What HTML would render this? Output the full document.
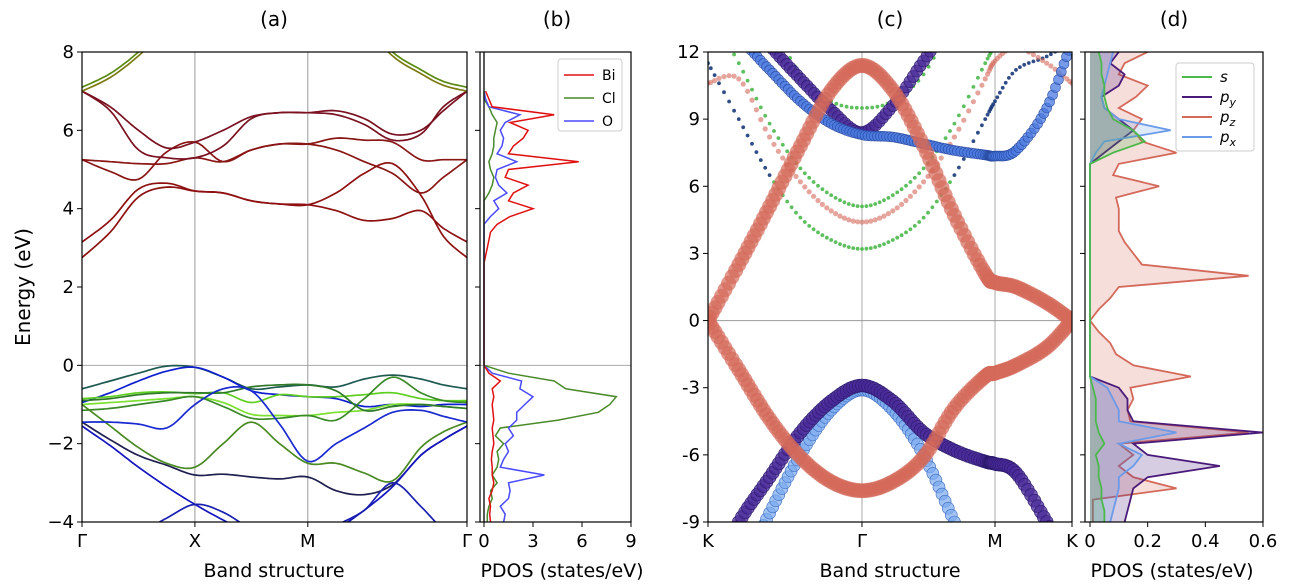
<!DOCTYPE html>
<html><head><meta charset="utf-8"><style>
html,body{margin:0;padding:0;background:#fff;}
svg{display:block;font-family:"DejaVu Sans","Liberation Sans",sans-serif;}
</style></head><body>
<svg id="fig" width="1296" height="587" viewBox="0 0 1296 587" xmlns="http://www.w3.org/2000/svg">
<defs>
<clipPath id="clipA"><rect x="82" y="52" width="385" height="470"/></clipPath>
<clipPath id="clipB"><rect x="480" y="52" width="151" height="470"/></clipPath>
<clipPath id="clipC"><rect x="708" y="52" width="364" height="470"/></clipPath>
<clipPath id="clipD"><rect x="1085" y="52" width="178" height="470"/></clipPath>
</defs>
<g id="layer"></g>
</svg>
<script>
// ---------- Panel (a) band structure data ----------
const aKnots = [0,0.25,0.5,0.75,1,1.25,1.5,1.75,2,2.25,2.5,2.75,3,3.2,3.41];
const aTickLabels = ["Γ","X","M","Γ"];
const aTickPos = [0,1,2,3.41];
const aYTicks = [8,6,4,2,0,-2,-4];
const bandC1 = [2.75,3.4,4.3,4.55,4.45,4.4,4.2,4.12,4.1,3.95,3.7,3.75,3.95,3.5,3.15];
const bandC2 = [3.15,3.7,4.5,4.65,4.45,4.4,4.2,4.12,4.1,4.4,4.9,5.15,4.35,3.3,2.75];
const bandC3 = [5.25,4.95,4.75,5.45,5.7,5.2,5.5,5.65,5.65,5.8,5.75,5.7,5.25,5.25,5.25];
const bandC4 = [5.25,5.2,5.15,5.15,5.3,5.2,5.5,5.65,5.65,5.5,5.2,4.9,4.4,4.8,5.25];
const bandC5 = [7.0,6.5,5.5,5.3,5.3,5.6,6.3,6.45,6.45,6.5,6.3,5.9,6.0,6.5,7.0];
const bandC6 = [7.0,6.6,6.0,5.55,5.7,6.0,6.35,6.45,6.45,6.4,6.15,5.75,5.9,6.6,7.0];
const bandG1 = [7.0,7.35,7.9,8.6,9.3,9.8,10,10,10,9.6,8.7,7.9,7.45,7.15,7.0];
const bandG2 = [7.1,7.45,8.0,8.7,9.4,9.9,10.1,10.1,10.1,9.7,8.8,8.0,7.55,7.25,7.1];
const bandV1 = [-0.6,-0.4,-0.2,-0.02,-0.05,-0.3,-0.6,-0.55,-0.5,-0.55,-0.35,-0.25,-0.35,-0.5,-0.6];
const bandV2 = [-0.95,-0.7,-0.4,-0.15,-0.05,-0.3,-0.65,-0.75,-0.8,-0.85,-1.05,-1.0,-1.05,-1.0,-1.0];
const bandV3 = [-0.85,-0.8,-0.7,-0.68,-0.72,-0.7,-0.95,-0.75,-0.8,-0.8,-0.75,-0.7,-0.85,-0.9,-0.9];
const bandV4 = [-1.0,-0.95,-0.9,-0.85,-0.8,-0.95,-1.25,-1.28,-1.28,-1.2,-1.15,-1.0,-1.0,-1.05,-1.1];
const bandV5 = [-1.15,-1.1,-1.0,-0.9,-0.8,-1.05,-1.35,-1.35,-1.28,-1.4,-0.85,-0.3,-0.7,-0.9,-0.95];
const bandV6 = [-0.9,-0.85,-0.75,-0.7,-0.7,-0.7,-0.55,-0.5,-0.5,-0.65,-1.15,-1.05,-1.0,-1.05,-1.1];
const bandV7 = [-1.0,-1.55,-2.1,-2.5,-2.6,-2.0,-1.45,-2.0,-2.5,-2.5,-2.75,-2.95,-2.1,-1.7,-1.45];
const bandV8 = [-1.45,-1.9,-2.3,-2.55,-2.8,-2.78,-2.85,-2.9,-2.85,-3.2,-3.3,-3.05,-2.3,-1.9,-1.55];
const bandV9 = [-1.55,-2.05,-2.6,-3.1,-3.55,-3.95,-4.3,-4.6,-4.6,-4.2,-3.7,-3.1,-2.3,-1.9,-1.55];
const bandV10 = [-1.45,-1.45,-1.5,-1.6,-1.0,-0.6,-0.65,-1.5,-2.45,-2.0,-1.6,-1.2,-1.15,-1.3,-1.45];
const bandV11 = [-4.5,-4.5,-4.3,-3.9,-3.55,-3.75,-4.2,-4.6,-4.6,-4.1,-3.7,-3.0,-3.6,-4.2,-4.6];
const aBands = [bandC1,bandC2,bandC3,bandC4,bandC5,bandC6,bandG1,bandG2,bandV1,bandV2,bandV3,bandV4,bandV5,bandV6,bandV7,bandV8,bandV9,bandV10,bandV11];
const aColors = ["#8e1010","#8e1010","#8a1515","#8a1515","#7a1020","#7a1020","#7a7a10","#5a8a10","#1e5a50","#1020d0","#5ecf1e","#7ce030","#3a8a28","#2f7a2a","#4a8a22","#202050","#1515c0","#1a2ad0","#1a20b0"];

// ---------- Panel (b) PDOS data ----------
const bE = [-4,-3.8,-3.6,-3.4,-3.2,-3,-2.8,-2.6,-2.4,-2.2,-2,-1.8,-1.6,-1.4,-1.2,-1,-0.8,-0.6,-0.4,-0.2,
 0,0.2,0.4,0.6,0.8,1,1.2,1.4,1.6,1.8,2,2.2,2.4,2.6,
 2.8,3,3.2,3.4,3.6,3.8,4,4.2,4.4,4.6,4.8,5,5.2,5.4,5.6,5.8,6,6.2,6.4,6.6,6.8,7];
const bBi = [0.4,0.35,0.4,0.3,0.5,0.6,0.5,0.5,0.45,0.5,0.6,0.55,0.5,0.6,0.55,0.5,0.6,0.5,1.0,0.3,
 0,0,0,0,0,0,0,0,0,0,0,0,0,0,
 0.1,0.2,0.3,0.4,0.8,1.6,3.0,1.5,1.8,2.7,1.3,1.5,5.8,1.5,1.8,2.4,2.7,1.6,4.3,0.5,0.3,0.1];
const bCl = [0.2,0.2,0.3,0.5,0.4,0.8,0.5,0.8,0.9,0.8,1.2,0.7,1.0,4.5,7.0,7.7,8.1,5.0,4.3,1.5,
 0,0,0,0,0,0,0,0,0,0,0,0,0,0,0,0,0,0,0,0,0,0,
 0.3,0.5,0.6,0.4,0.3,0.5,0.6,0.6,0.7,0.8,0.5,0.3,0,0];
const bO = [1.2,1.3,1.0,1.5,1.6,1.5,3.7,1.0,1.2,1.5,1.3,1.8,1.5,2.0,2.0,2.5,3.0,2.2,2.3,0.5,
 0,0,0,0,0,0,0,0,0,0,0,0,0,0,0,0,0,0,0,
 0.4,0.9,0.6,1.4,0.9,0.7,0.8,2.0,0.8,1.1,1.2,1.0,1.3,2.2,0.3,0.1,0];
const bXTicks = [0,3,6,9];

// ---------- Panel (c) band structure data ----------
const cKnots = [0,0.2,0.4,0.6,0.8,1.0,1.2,1.4,1.6,1.8,1.864,2.0,2.2,2.364];
const cTickLabels = ["K","Γ","M","K"];
const cTickPos = [0,1,1.864,2.364];
const cYTicks = [12,9,6,3,0,-3,-6,-9];
const cPzUp = [0,2.5,5.1,7.8,10.3,11.4,10.3,7.8,4.7,2.1,1.7,1.5,0.8,0];
const cPzDown = [0,-2.2,-4.4,-6.1,-7.2,-7.6,-7.2,-6.1,-3.9,-2.5,-2.35,-2.0,-1.2,0];
const cPyVal = [-11.5,-9,-7,-5,-3.6,-2.9,-3.6,-5,-5.8,-6.3,-6.4,-6.8,-9,-11];
const cPxVal = [-15,-11.5,-8.6,-6,-4,-3.1,-4,-6,-9,-12,-13,-15,-17,-19];
const cPyUp = [16,14,12.3,10.8,9.4,8.4,9.6,11.6,13.5,15,16,17,18,19];
const cPxUp = [13.5,12.6,11.2,9.8,8.8,8.3,8.2,7.9,7.6,7.4,7.35,7.6,9.5,12.5];
const cS1 = [20,16,13.5,11,9.8,9.5,9.8,11,13.5,16,17,19,21,23];
const cS2 = [14,11.5,8.8,6.8,5.6,5.1,5.6,6.8,8.8,11.5,12.3,14,16,18];
const cPzDot = [10.6,10.8,8.2,6.2,4.9,4.4,4.9,6.2,8.2,10.8,11.6,12.2,11.5,10.6];
const cS3 = [11.5,9,6.5,4.6,3.6,3.2,3.6,4.6,6.5,9,9.8,11.2,11.8,12.5];

// ---------- Panel (d) PDOS data ----------
const dE = [-9,-8.5,-8,-7.5,-7,-6.5,-6,-5.5,-5,-4.5,-4,-3.5,-3,-2.5,-2,-1.5,-1,-0.5,0,0.5,1,1.5,2,2.5,3,3.5,4,4.5,5,5.5,6,6.5,7,7.5,8,8.5,9,9.5,10,10.5,11,11.5,12];
const dPz = [0.01,0.01,0.01,0.3,0.15,0.1,0.15,0.1,0.55,0.14,0.13,0.15,0.14,0.35,0.15,0.09,0.07,0.03,0.0,0.03,0.07,0.1,0.55,0.18,0.15,0.12,0.1,0.1,0.1,0.09,0.24,0.08,0.1,0.3,0.18,0.15,0.18,0.1,0.16,0.2,0.1,0.12,0.2];
const dPy = [0.12,0.13,0.14,0.15,0.2,0.45,0.2,0.15,0.6,0.15,0.13,0.13,0.1,
 0,0,0,0,0,0,0,0,0,0,0,0,0,0,0,0,0,0,0,0,
 0.05,0.1,0.15,0.1,0.05,0.04,0.1,0.12,0.07,0.1];
const dPx = [0.07,0.08,0.09,0.1,0.1,0.15,0.18,0.1,0.3,0.1,0.1,0.08,0.06,
 0,0,0,0,0,0,0,0,0,0,0,0,0,0,0,0,0,0,0,0,
 0.02,0.05,0.28,0.1,0.05,0.04,0.05,0.06,0.07,0.08];
const dS = [0.05,0.05,0.04,0.04,0.03,0.03,0.02,0.05,0.03,0.02,0.02,0.02,0.01,
 0,0,0,0,0,0,0,0,0,0,0,0,0,0,0,0,0,0,0,0,
 0.08,0.19,0.15,0.08,0.06,0.05,0.05,0.04,0.04,0.03];
const dXTicks = [0,0.2,0.4,0.6];

// ---------- helpers ----------
const NS = "http://www.w3.org/2000/svg";
const layer = document.getElementById("layer");
function mk(tag, attrs, parent){
  const e = document.createElementNS(NS, tag);
  for (const k in attrs) e.setAttribute(k, attrs[k]);
  (parent||layer).appendChild(e);
  return e;
}
function lin(d0,d1,r0,r1){return v => r0 + (v-d0)/(d1-d0)*(r1-r0);}
function crSample(pts, n){
  const out=[];
  for(let i=0;i<pts.length-1;i++){
    const p0=pts[Math.max(i-1,0)],p1=pts[i],p2=pts[i+1],p3=pts[Math.min(i+2,pts.length-1)];
    for(let s=0;s<n;s++){
      const t=s/n,t2=t*t,t3=t2*t;
      const f=(a,b,c,d)=>0.5*((2*b)+(-a+c)*t+(2*a-5*b+4*c-d)*t2+(-a+3*b-3*c+d)*t3);
      out.push([f(p0[0],p1[0],p2[0],p3[0]),f(p0[1],p1[1],p2[1],p3[1])]);
    }
  }
  out.push(pts[pts.length-1]);
  return out;
}
function txt(x,y,s,size,anchor,name,extra){
  const t = mk("text",Object.assign({x:x,y:y,"font-size":size,"text-anchor":anchor||"middle",fill:"#000"},extra||{}));
  t.textContent = s;
  
  
  return t;
}
function frame(x0,y0,x1,y1,name){
  const r = mk("rect",{x:x0,y:y0,width:x1-x0,height:y1-y0,fill:"none",stroke:"#000","stroke-width":1.2});
  
  
}
function ytick(x,y,label,name){
  const l = mk("line",{x1:x-5,y1:y,x2:x,y2:y,stroke:"#000","stroke-width":1});
  
  
  if(label!==null) txt(x-8,y+6,label,18,"end",name);
}
function xtick(x,y,label,name){
  const l = mk("line",{x1:x,y1:y,x2:x,y2:y+5,stroke:"#000","stroke-width":1});
  
  
  txt(x,y+25,label,18,"middle",name);
}
function fmt(v){return (v<0?"\u2212":"")+Math.abs(v);}

// ---------- Panel (a) ----------
const ax = lin(0,3.41,82,467), ay = lin(-4,8,522,52);
const gA = mk("g",{"clip-path":"url(#clipA)"});


[1,2].forEach(k=>{
  const l=mk("line",{x1:ax(k),y1:52,x2:ax(k),y2:522,stroke:"#999","stroke-width":1},gA);
  
  
});
{const l=mk("line",{x1:82,y1:ay(0),x2:467,y2:ay(0),stroke:"#aaa","stroke-width":1},gA);

}
aBands.forEach((b,i)=>{
  const pts=crSample(b.map((v,j)=>[ax(aKnots[j]),ay(v)]),8);
  const p=mk("path",{d:"M"+pts.map(q=>q[0].toFixed(1)+","+q[1].toFixed(1)).join("L"),fill:"none",stroke:aColors[i],"stroke-width":1.7},gA);
  
  
});
frame(82,52,467,522,'panel-a-frame');
aYTicks.forEach(v=>ytick(82,ay(v),fmt(v),'y-tick-label-a'));
aTickPos.forEach((k,i)=>xtick(ax(k),522,aTickLabels[i],'x-tick-label-a'));
txt(274,26,"(a)",20,"middle",'panel-a-title');
txt(274,577,"Band structure",19,"middle",'x-axis-title-a');
txt(30,287,"Energy (eV)",20,"middle",'y-axis-title',{transform:"rotate(-90 30 287)"});

// ---------- Panel (b) ----------
const bx = lin(0,9,484,631);
const gB = mk("g",{"clip-path":"url(#clipB)"});


{const l=mk("line",{x1:480,y1:ay(0),x2:631,y2:ay(0),stroke:"#aaa","stroke-width":1},gB);

}
[[bCl,"#4a8a2a","Cl"],[bO,"#4a4aff","O"],[bBi,"#e01010","Bi"]].forEach(s=>{
  const pl=mk("polyline",{points:s[0].map((v,j)=>bx(v).toFixed(1)+","+ay(bE[j]).toFixed(1)).join(" "),fill:"none",stroke:s[1],"stroke-width":1.5},gB);
  
  
});
{const l=mk("line",{x1:bx(0),y1:52,x2:bx(0),y2:522,stroke:"#222","stroke-width":1.5},gB);

}
frame(480,52,631,522,'panel-b-frame');
aYTicks.forEach(v=>ytick(480,ay(v),null,'y-tick-b'));
bXTicks.forEach(v=>xtick(bx(v),522,String(v),'x-tick-label-b'));
txt(557,26,"(b)",20,"middle",'panel-b-title');
txt(562,577,"PDOS (states/eV)",19,"middle",'x-axis-title-b');
{
  const lg=mk("g",{});
  
  
  const r=mk("rect",{x:558,y:59,width:64,height:72,rx:3,fill:"#fff","fill-opacity":0.85,stroke:"#ccc"},lg);
  
  
  [["Bi","#e01010"],["Cl","#4a8a2a"],["O","#4a4aff"]].forEach((e,i)=>{
    const y=75+i*23;
    const l=mk("line",{x1:564,y1:y,x2:594,y2:y,stroke:e[1],"stroke-width":1.6},lg);
    
    
    const t=mk("text",{x:602,y:y+5,"font-size":14},lg);t.textContent=e[0];
    
    
  });
}

// ---------- Panel (c) ----------
const cx = lin(0,2.364,708,1072), cy = lin(-9,12,522,52);
const gC = mk("g",{"clip-path":"url(#clipC)"});


[1,1.864].forEach(k=>{
  const l=mk("line",{x1:cx(k),y1:52,x2:cx(k),y2:522,stroke:"#aaa","stroke-width":1},gC);
  
  
});
{const l=mk("line",{x1:708,y1:cy(0),x2:1072,y2:cy(0),stroke:"#999","stroke-width":1},gC);

}
function markers(vals,n,r,fill,op,stroke,name,altFill,altAbove){
  const pts=crSample(vals.map((v,j)=>[cx(cKnots[j]),cy(v)]),n);
  pts.forEach(q=>{
    if(q[1]<30||q[1]>545) return;
    const f=(altFill && q[1]<altAbove)?altFill:fill;
    const c=mk("circle",{cx:q[0].toFixed(1),cy:q[1].toFixed(1),r:r,fill:f,"fill-opacity":op,stroke:stroke||"none","stroke-width":0.6},gC);
    
    
  });
}
markers(cS1,6,1.9,"#4bb84b",0.9,null,'s-band-marker');
markers(cS2,7,1.9,"#4bb84b",0.9,null,'s-band-marker');
markers(cS3,7,1.9,"#4bb84b",0.9,null,'s-band-marker',"#1a3a7a",cy(6.3));
markers(cPzDot,7,2.6,"#d4695a",0.6,null,'pz-band-marker');
markers(cPxVal,10,6,"#7aaaf0",0.7,"#3a6ac0",'px-band-marker');
markers(cPyVal,10,6.5,"#4a2a9a",0.75,"#2a1a6a",'py-band-marker');
markers(cPyUp,9,6,"#4a2a9a",0.75,"#2a1a6a",'py-band-marker');
markers(cPxUp,10,5,"#4a7ae0",0.75,"#2a4aa0",'px-band-marker');
markers(cPzUp,10,7.5,"#d4695a",0.7,null,'pz-band-marker');
markers(cPzDown,10,7.5,"#d4695a",0.7,null,'pz-band-marker');
frame(708,52,1072,522,'panel-c-frame');
cYTicks.forEach(v=>ytick(708,cy(v),String(v),'y-tick-label-c'));
cTickPos.forEach((k,i)=>xtick(cx(k),522,cTickLabels[i],'x-tick-label-c'));
txt(890,26,"(c)",20,"middle",'panel-c-title');
txt(890,577,"Band structure",19,"middle",'x-axis-title-c');

// ---------- Panel (d) ----------
const dx = lin(0,0.6,1090,1263);
const gD = mk("g",{"clip-path":"url(#clipD)"});


[[dPz,"#d4695a","pz"],[dPy,"#4a1a7a","py"],[dPx,"#6a9ae8","px"],[dS,"#4bb84b","s"]].forEach(s=>{
  const pts=s[0].map((v,j)=>dx(v).toFixed(1)+","+cy(dE[j]).toFixed(1));
  const poly=mk("polygon",{points:dx(0)+","+cy(dE[0])+" "+pts.join(" ")+" "+dx(0)+","+cy(dE[dE.length-1]),fill:s[1],"fill-opacity":0.22,stroke:"none"},gD);
  
  
  const pl=mk("polyline",{points:pts.join(" "),fill:"none",stroke:s[1],"stroke-width":1.8},gD);
  
  
});
frame(1085,52,1263,522,'panel-d-frame');
cYTicks.forEach(v=>ytick(1085,cy(v),null,'y-tick-d'));
dXTicks.forEach(v=>xtick(dx(v),522,String(v),'x-tick-label-d'));
txt(1174,26,"(d)",20,"middle",'panel-d-title');
txt(1172,577,"PDOS (states/eV)",19,"middle",'x-axis-title-d');
{
  const lg=mk("g",{});
  
  
  const r=mk("rect",{x:1176,y:63,width:78,height:88,rx:3,fill:"#fff","fill-opacity":0.85,stroke:"#ccc"},lg);
  
  
  [["s","","#4bb84b"],["p","y","#4a1a7a"],["p","z","#d4695a"],["p","x","#6a9ae8"]].forEach((e,i)=>{
    const y=77+i*20;
    const l=mk("line",{x1:1182,y1:y,x2:1212,y2:y,stroke:e[2],"stroke-width":2},lg);
    
    
    const t=mk("text",{x:1220,y:y+5,"font-size":15,"font-style":"italic"},lg);
    t.textContent=e[0];
    if(e[1]){const ts=mk("tspan",{"font-size":11,dy:4},t);ts.textContent=e[1];}
    
    
  });
}
</script>
</body></html>
